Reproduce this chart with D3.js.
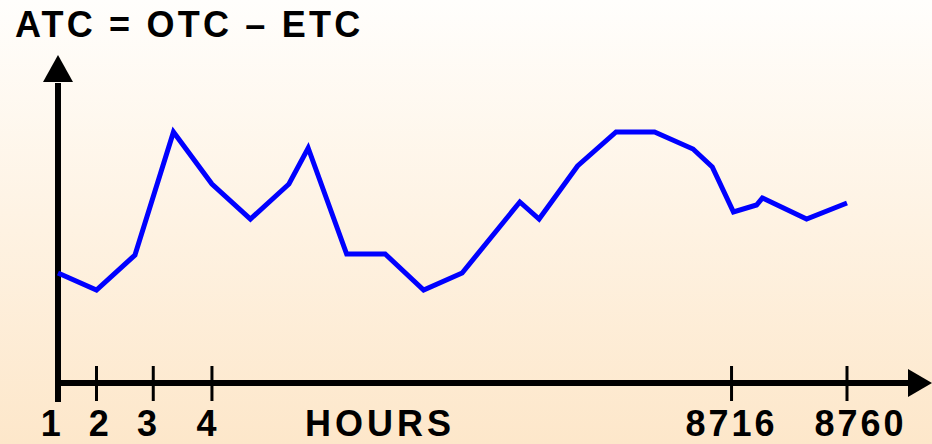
<!DOCTYPE html>
<html>
<head>
<meta charset="utf-8">
<script src="https://cdn.jsdelivr.net/npm/d3@7"></script>
<style>
  html, body { margin: 0; padding: 0; }
  body { width: 932px; height: 444px; overflow: hidden; }
  text { font-family: "Liberation Sans", Arial, sans-serif; font-weight: bold; fill: #000; }
</style>
</head>
<body>
<div id="chart"></div>
<script>
// position along the time axis (abstract steps) and ATC level
var linePos = [0, 2, 4, 6, 8, 10, 12, 13, 15, 17, 19, 21, 24, 25, 27, 29, 31, 33, 34, 35.1, 36.3, 36.6, 38.9, 41];
var lineVals = [110, 93, 128, 251, 199, 164, 199, 235, 129, 129, 93, 110, 181, 164, 217, 251, 251, 234, 216, 171, 178, 185, 164, 180];

var tickPos = [2, 4.95, 8, 35, 41];
var labelPos = [-0.3, 2.2, 4.7, 7.8, 35, 41.7];
var tickLabels = ["1", "2", "3", "4", "8716", "8760"];

var width = 932, height = 444;

var svg = d3.select("#chart")
    .append("svg")
    .attr("width", width)
    .attr("height", height);

// background gradient
var grad = svg.append("defs").append("linearGradient")
    .attr("id", "bg")
    .attr("x1", 0).attr("y1", 0).attr("x2", 0).attr("y2", 1);
grad.append("stop").attr("offset", "0%").attr("stop-color", "#fffefc");
grad.append("stop").attr("offset", "100%").attr("stop-color", "#fde7ca");

svg.append("rect")
    .attr("width", width)
    .attr("height", height)
    .attr("fill", "url(#bg)");

var x = d3.scaleLinear().domain([0, 41]).range([58, 847]);
var y = d3.scaleLinear().domain([0, 328]).range([383, 55]);

// axes
svg.append("line")
    .attr("x1", x(0)).attr("x2", x(0))
    .attr("y1", 402).attr("y2", y(300))
    .attr("stroke", "#000").attr("stroke-width", 6);

svg.append("line")
    .attr("x1", x(0) - 3).attr("x2", 912)
    .attr("y1", y(0)).attr("y2", y(0))
    .attr("stroke", "#000").attr("stroke-width", 6);

// arrow heads
svg.append("path")
    .attr("d", "M" + x(0) + ",55 L" + (x(0) - 15) + ",82 L" + (x(0) + 15) + ",82 Z")
    .attr("fill", "#000");
svg.append("path")
    .attr("d", "M932," + y(0) + " L908," + (y(0) - 14) + " L908," + (y(0) + 14) + " Z")
    .attr("fill", "#000");

// ticks
svg.selectAll(".tick")
    .data(tickPos)
    .enter()
    .append("line")
    .attr("class", "tick")
    .attr("x1", d => x(d)).attr("x2", d => x(d))
    .attr("y1", 366).attr("y2", 401)
    .attr("stroke", "#000").attr("stroke-width", 3);

svg.selectAll(".tlabel")
    .data(tickLabels)
    .enter()
    .append("text")
    .attr("class", "tlabel")
    .attr("x", (d, i) => x(labelPos[i]))
    .attr("y", 436)
    .attr("text-anchor", "middle")
    .attr("font-size", 36)
    .attr("letter-spacing", 3)
    .text(d => d);

svg.append("text")
    .attr("x", 380)
    .attr("y", 436)
    .attr("text-anchor", "middle")
    .attr("font-size", 36)
    .attr("letter-spacing", 4)
    .text("HOURS");

svg.append("text")
    .attr("x", 15)
    .attr("y", 37)
    .attr("font-size", 36)
    .attr("letter-spacing", 3.2)
    .text("ATC = OTC \u2013 ETC");

// the ATC line
var line = d3.line()
    .x((d, i) => x(linePos[i]))
    .y(d => y(d));

svg.append("path")
    .datum(lineVals)
    .attr("d", line)
    .attr("fill", "none")
    .attr("stroke", "#0000ff")
    .attr("stroke-width", 5)
    .attr("stroke-linejoin", "miter");
</script>
</body>
</html>
